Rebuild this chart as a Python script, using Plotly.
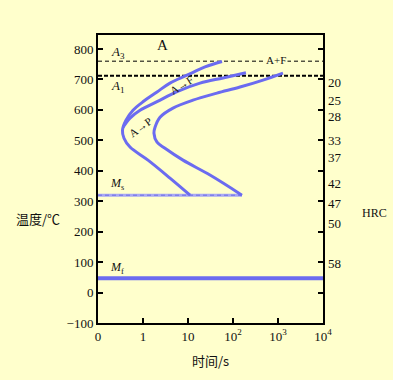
import plotly.graph_objects as go
import math

# ---- data ----
x_tickvals = [0.1, 1, 10, 100, 1000, 10000]
x_ticktext = ["0", "1", "10", "10<sup>2</sup>", "10<sup>3</sup>", "10<sup>4</sup>"]
y_tickvals = [-100, 0, 100, 200, 300, 400, 500, 600, 700, 800]

# transformation start curve (time s, temperature C)
start_t = [57, 23.9, 9.5, 3.98, 2.05, 1.05, 0.6, 0.419, 0.35, 0.378, 0.514, 1.29, 3.98, 11.1]
start_T = [759, 741, 714, 688, 659, 629, 599, 566, 533, 507, 478, 435, 376, 320]

# ferrite finish curve
mid_t = [194, 60, 18.5, 5.7, 2.05, 0.86, 0.514, 0.36]
mid_T = [722, 705, 688, 660, 627, 599, 573, 543]

# transformation finish curve
end_t = [1291, 464, 143, 44, 12.9, 4.64, 2.39, 1.85, 1.75, 2.05, 3.08, 7.74, 30.8, 158]
end_T = [721, 698, 675, 655, 632, 606, 576, 543, 524, 494, 474, 435, 386, 320]

A3_T = 760
A1_T = 712
Ms_T = 320
Mf_T = 47
Ms_t_end = 158

hrc_labels = ["20", "25", "28", "33", "37", "42", "47", "50", "58"]
hrc_T = [690, 630, 577, 501, 442, 357, 291, 228, 96]

bg = "#FFFFCC"
blue = "#6B6BF0"
serif = "Liberation Serif, DejaVu Serif, serif"
cjk = "Noto Sans CJK SC"
txt = "#111"

fig = go.Figure()

# A3 / A1 lines
fig.add_trace(go.Scatter(x=[0.1, 10000], y=[A3_T, A3_T], mode="lines",
                         line=dict(color="black", width=1, dash="4px,3px"), showlegend=False))
fig.add_trace(go.Scatter(x=[0.1, 10000], y=[A1_T, A1_T], mode="lines",
                         line=dict(color="black", width=2, dash="4px,2px"), showlegend=False))

# Ms line
fig.add_trace(go.Scatter(x=[0.1, Ms_t_end], y=[Ms_T, Ms_T], mode="lines",
                         line=dict(color="#A8A8F5", width=3), showlegend=False))
fig.add_trace(go.Scatter(x=[0.1, Ms_t_end], y=[Ms_T, Ms_T], mode="lines",
                         line=dict(color="#8080E8", width=1.5, dash="4px,3px"), showlegend=False))
# Mf line
fig.add_trace(go.Scatter(x=[0.1, 10000], y=[Mf_T, Mf_T], mode="lines",
                         line=dict(color=blue, width=4), showlegend=False))

# C-curves
for tt, TT in [(start_t, start_T), (mid_t, mid_T), (end_t, end_T)]:
    fig.add_trace(go.Scatter(x=tt, y=TT, mode="lines", line=dict(color=blue, width=3, shape="spline"),
                             showlegend=False))

ann = []
def lab(text, x, y, size=13, angle=0, **kw):
    ann.append(dict(text=text, x=x, y=y, xref="x", yref="y", showarrow=False,
                    font=dict(family=serif, size=size, color=txt), textangle=angle, **kw))

lab("<i>A</i><sub>3</sub>", math.log10(0.28), 787)
lab("A", math.log10(2.78), 812, size=15)
lab("<i>A</i><sub>1</sub>", math.log10(0.28), 678)
lab("A+F", math.log10(900), 764, size=11, bgcolor=bg)
lab("<i>M</i><sub>s</sub>", math.log10(0.26), 356, size=12)
lab("<i>M</i><sub>f</sub>", math.log10(0.26), 80, size=12)
lab("A→F", math.log10(7.2), 682, size=11, angle=-32)
lab("A→P", math.log10(0.88), 543, size=11, angle=-36)

for t, T in zip(hrc_labels, hrc_T):
    ann.append(dict(text=t, x=1, y=T, xref="paper", yref="y", xanchor="left", xshift=3,
                    showarrow=False, font=dict(family=serif, size=13, color=txt)))

ann.append(dict(text="HRC", x=1, y=260, xref="paper", yref="y", xanchor="left", xshift=37,
                showarrow=False, font=dict(family=serif, size=12, color=txt)))
ann.append(dict(text="温度/℃", x=0, y=244, xref="paper", yref="y", xanchor="right", xshift=-36,
                showarrow=False, font=dict(family=cjk, size=13, color=txt)))
ann.append(dict(text="时间/s", x=0.5, y=0, xref="paper", yref="paper", yanchor="middle", yshift=-37,
                showarrow=False, font=dict(family=cjk, size=13, color=txt)))

fig.update_layout(
    width=393, height=380,
    margin=dict(l=98, r=70, t=35, b=57),
    paper_bgcolor=bg, plot_bgcolor=bg,
    annotations=ann,
    xaxis=dict(type="log", range=[-1, 4], tickvals=x_tickvals, ticktext=x_ticktext,
               showgrid=False, zeroline=False, showline=True, linecolor="black", linewidth=2,
               mirror=True, ticks="inside", ticklen=5, tickwidth=2, tickcolor="black",
               tickfont=dict(family=serif, size=13, color=txt)),
    yaxis=dict(range=[-100, 846], tickvals=y_tickvals,
               showgrid=False, zeroline=False, showline=True, linecolor="black", linewidth=2,
               mirror="ticks", ticks="inside", ticklen=5, tickwidth=2, tickcolor="black",
               tickfont=dict(family=serif, size=13, color=txt)),
)

fig.write_html("out.html", config={"displayModeBar": False},
               post_script="document.body.style.margin='0';document.body.style.background='#FFFFCC';")
